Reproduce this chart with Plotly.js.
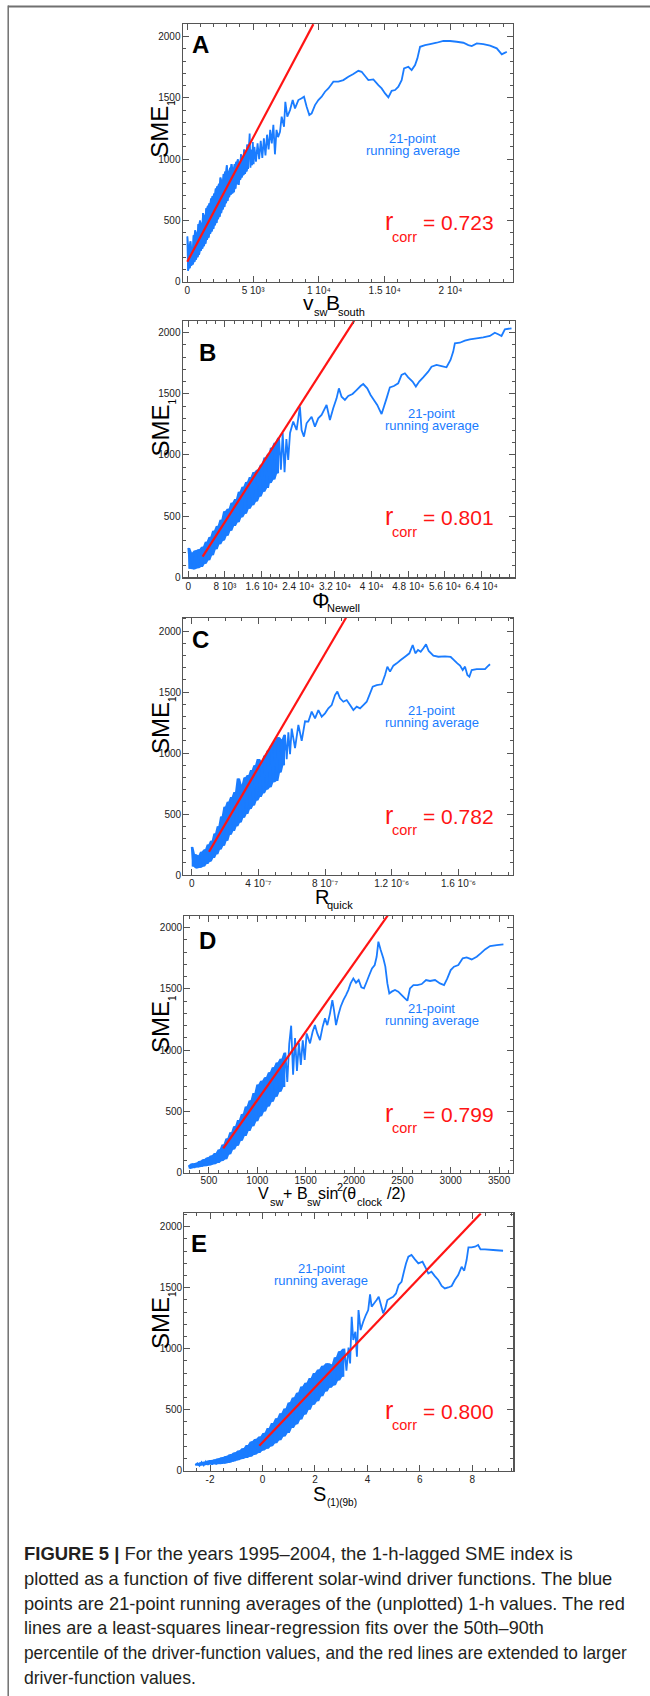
<!DOCTYPE html>
<html><head><meta charset="utf-8">
<script src="https://cdn.plot.ly/plotly-3.0.1.min.js"></script>
<style>
html,body{margin:0;padding:0;background:#fff;}
#wrap{position:relative;width:650px;height:1696px;overflow:hidden;background:#fff;}
#chart{position:absolute;left:0;top:0;width:650px;height:1696px;}
.cap{position:absolute;left:24px;white-space:nowrap;font-family:"Liberation Sans",Arial,sans-serif;font-size:18.6px;line-height:18.6px;color:#231f20;transform-origin:0 0;}
</style></head><body>
<div id="wrap"><div id="chart"></div><div id="caption"></div></div>
<script>
// ---------------- data ----------------
const panelLetters = ['A','B','C','D','E'];
const rcorrValues = ['0.723','0.801','0.782','0.799','0.800'];

const blueA = [[0,370],[60,90],[120,300],[180,110],[240,330],[300,130],[360,280],[420,140],[480,380],[540,160],[600,420],[660,180],[720,400],[780,200],[840,470],[900,220],[960,500],[1020,250],[1080,480],[1140,270],[1200,560],[1260,290],[1320,540],[1380,310],[1440,600],[1500,340],[1560,620],[1620,360],[1680,640],[1740,390],[1800,680],[1860,410],[1920,700],[1980,430],[2040,720],[2100,460],[2160,760],[2220,480],[2280,780],[2340,510],[2400,800],[2460,530],[2520,850],[2580,560],[2640,830],[2700,590],[2760,880],[2820,610],[2880,900],[2940,640],[3000,950],[3060,660],[3120,900],[3180,690],[3240,930],[3300,710],[3360,960],[3420,720],[3480,930],[3540,730],[3600,960],[3660,760],[3720,980],[3780,800],[3840,1000],[3900,790],[3960,970],[4020,830],[4080,1040],[4140,850],[4200,1020],[4260,870],[4320,1080],[4380,880],[4440,1060],[4500,900],[4560,1120],[4620,920],[4680,1100],[4740,1210],[4800,930],[4860,1080],[4920,950],[4980,1140],[5040,960],[5100,1100],[5220,980],[5340,1130],[5460,1000],[5580,1150],[5700,1010],[5820,1170],[5940,1030],[6060,1200],[6180,1080],[6300,1240],[6420,1130],[6540,1280],[6660,1040],[6780,1240],[6900,1180],[7045,1224],[7172,1347],[7350,1265],[7450,1469],[7600,1347],[7805,1401],[8010,1483],[8185,1415],[8440,1483],[8690,1497],[8870,1510],[9070,1429],[9275,1361],[9450,1374],[9705,1442],[9960,1483],[10210,1510],[10465,1551],[10720,1578],[11100,1633],[11480,1633],[11860,1646],[12240,1673],[12620,1695],[13000,1722],[13250,1714],[13510,1679],[13760,1646],[14140,1652],[14520,1605],[14770,1578],[15030,1537],[15280,1505],[15530,1559],[15790,1565],[16040,1592],[16290,1646],[16470,1741],[16800,1755],[17050,1728],[17310,1769],[17485,1823],[17690,1918],[18070,1932],[18450,1940],[18950,1951],[19460,1967],[19970,1965],[20470,1959],[20980,1951],[21360,1932],[21620,1924],[22000,1946],[22500,1940],[23010,1927],[23520,1905],[23900,1856],[24150,1870],[24280,1878]];

const blueB = [[0,240],[400,70],[800,200],[1200,65],[1600,220],[2000,75],[2400,230],[2800,85],[3200,250],[3600,110],[4000,290],[4400,140],[4800,330],[5200,180],[5600,380],[6000,230],[6400,420],[6800,270],[7200,470],[7600,300],[8000,540],[8400,340],[8800,560],[9200,380],[9600,610],[10000,420],[10400,640],[10800,450],[11200,700],[11600,490],[12000,740],[12400,520],[12800,780],[13200,560],[13600,820],[14000,590],[14400,860],[14800,620],[15200,880],[15600,660],[16000,920],[16400,700],[16800,980],[17200,730],[17600,1010],[17800,770],[18200,1060],[18600,800],[19000,1100],[19400,850],[19800,1140],[20200,880],[20600,1180],[21000,860],[21400,1130],[21800,960],[22200,1180],[22900,1273],[23630,1204],[24350,1395],[24720,1204],[25230,1150],[25810,1259],[26900,1313],[27630,1232],[28350,1300],[29080,1327],[30170,1409],[30900,1286],[31620,1382],[32350,1463],[32860,1545],[33440,1477],[34170,1450],[34900,1482],[35840,1499],[36710,1531],[37590,1564],[38170,1580],[39040,1545],[39770,1491],[40490,1450],[41220,1409],[41800,1363],[42170,1335],[42680,1395],[43260,1463],[43980,1553],[44860,1564],[45800,1586],[46530,1654],[47260,1668],[47980,1635],[48930,1600],[49650,1559],[50380,1600],[51250,1635],[52340,1681],[53070,1722],[54160,1736],[55250,1727],[56340,1717],[57210,1777],[57800,1845],[58160,1913],[59250,1918],[60340,1935],[61430,1946],[62890,1954],[64340,1962],[65800,1973],[66880,2000],[67610,1987],[68340,1973],[69070,2027],[70520,2036]];

const blueC = [[0,230],[1e-8,70],[2e-8,170],[3e-8,55],[4e-8,160],[5e-8,60],[6e-8,190],[7e-8,70],[8e-8,210],[9e-8,90],[1.0e-7,250],[1.1e-7,110],[1.2e-7,280],[1.3e-7,140],[1.4e-7,340],[1.5e-7,170],[1.6e-7,400],[1.7e-7,210],[1.8e-7,480],[1.9e-7,240],[2.0e-7,560],[2.1e-7,280],[2.2e-7,600],[2.3e-7,330],[2.4e-7,640],[2.5e-7,360],[2.6e-7,680],[2.7e-7,400],[2.8e-7,790],[2.9e-7,430],[3.0e-7,740],[3.1e-7,470],[3.2e-7,800],[3.3e-7,500],[3.4e-7,820],[3.5e-7,540],[3.6e-7,860],[3.7e-7,570],[3.8e-7,900],[3.9e-7,610],[4.0e-7,950],[4.1e-7,640],[4.2e-7,930],[4.3e-7,670],[4.4e-7,980],[4.5e-7,700],[4.6e-7,1020],[4.7e-7,720],[4.8e-7,1060],[4.9e-7,760],[5.0e-7,1100],[5.1e-7,770],[5.2e-7,1130],[5.3e-7,840],[5.4e-7,1110],[5.5e-7,900],[5.6e-7,1150],[5.7e-7,950],[5.8e-7,1170],[5.9e-7,990],[6.0e-7,1200],[6.2e-7,1040],[6.4e-7,1230],[6.6e-7,1100],[6.8e-7,1260],[7.0e-7,1257],[7.2e-7,1339],[7.4e-7,1284],[7.6e-7,1352],[7.8e-7,1298],[8.0e-7,1325],[8.2e-7,1366],[8.4e-7,1393],[8.6e-7,1475],[8.74e-7,1503],[8.9e-7,1448],[9.1e-7,1420],[9.3e-7,1434],[9.5e-7,1393],[9.7e-7,1352],[9.9e-7,1380],[1.01e-6,1366],[1.03e-6,1393],[1.05e-6,1420],[1.066e-6,1475],[1.086e-6,1544],[1.11e-6,1557],[1.14e-6,1563],[1.16e-6,1639],[1.174e-6,1708],[1.19e-6,1667],[1.21e-6,1716],[1.23e-6,1735],[1.254e-6,1762],[1.28e-6,1789],[1.306e-6,1817],[1.326e-6,1885],[1.342e-6,1817],[1.358e-6,1844],[1.374e-6,1830],[1.39e-6,1858],[1.406e-6,1891],[1.422e-6,1836],[1.45e-6,1798],[1.48e-6,1789],[1.52e-6,1792],[1.554e-6,1787],[1.574e-6,1762],[1.594e-6,1735],[1.61e-6,1716],[1.626e-6,1680],[1.64e-6,1708],[1.654e-6,1639],[1.666e-6,1625],[1.68e-6,1680],[1.71e-6,1688],[1.76e-6,1688],[1.774e-6,1708],[1.79e-6,1727]];

const blueD = [[290,60],[310,35],[330,75],[350,40],[370,80],[390,45],[410,95],[430,50],[450,110],[470,55],[490,125],[510,60],[530,140],[550,70],[570,160],[590,80],[610,190],[630,95],[650,230],[670,110],[690,280],[710,150],[730,330],[750,190],[770,380],[790,220],[810,430],[830,260],[850,480],[870,300],[890,540],[910,340],[930,590],[950,380],[970,650],[990,420],[1010,720],[1030,460],[1050,750],[1070,500],[1090,780],[1110,540],[1130,820],[1150,580],[1170,860],[1190,620],[1210,900],[1230,660],[1250,930],[1270,700],[1290,980],[1310,740],[1330,1050],[1350,1200],[1370,800],[1390,1100],[1410,830],[1430,1060],[1450,880],[1470,1080],[1490,920],[1510,1137],[1545,1056],[1572,1151],[1596,1205],[1620,1137],[1648,1083],[1676,1192],[1700,1260],[1724,1205],[1752,1301],[1776,1409],[1793,1328],[1814,1205],[1838,1287],[1862,1355],[1890,1409],[1917,1450],[1941,1491],[1965,1545],[1993,1586],[2021,1551],[2048,1573],[2076,1513],[2103,1505],[2131,1559],[2158,1614],[2186,1668],[2214,1695],[2234,1763],[2252,1886],[2276,1818],[2303,1750],[2324,1682],[2345,1545],[2365,1464],[2390,1478],[2424,1491],[2458,1478],[2493,1450],[2527,1423],[2552,1404],[2579,1505],[2614,1532],[2655,1532],[2700,1540],[2745,1573],[2786,1565],[2838,1573],[2889,1545],[2931,1532],[2965,1586],[3000,1654],[3034,1682],[3079,1695],[3124,1750],[3165,1758],[3217,1741],[3269,1763],[3310,1790],[3355,1823],[3407,1850],[3476,1858],[3545,1864]];

const blueE = [[-2.56,45],[-2.48,60],[-2.40,40],[-2.32,70],[-2.24,45],[-2.16,75],[-2.08,48],[-2.00,85],[-1.92,50],[-1.84,90],[-1.76,52],[-1.68,100],[-1.60,55],[-1.52,110],[-1.44,60],[-1.36,120],[-1.28,65],[-1.20,135],[-1.12,75],[-1.04,150],[-0.96,85],[-0.88,165],[-0.80,95],[-0.72,185],[-0.64,105],[-0.56,210],[-0.48,115],[-0.40,240],[-0.32,130],[-0.24,260],[-0.16,145],[-0.08,280],[0.00,165],[0.08,310],[0.16,180],[0.24,350],[0.32,200],[0.40,390],[0.48,225],[0.56,430],[0.64,250],[0.72,470],[0.80,280],[0.88,510],[0.96,310],[1.04,560],[1.12,350],[1.20,600],[1.28,380],[1.36,640],[1.44,420],[1.52,690],[1.60,460],[1.68,720],[1.76,500],[1.84,760],[1.92,540],[2.00,800],[2.08,570],[2.16,830],[2.24,610],[2.32,860],[2.40,650],[2.48,880],[2.56,680],[2.64,870],[2.72,700],[2.80,930],[2.88,740],[2.96,980],[3.04,770],[3.12,1000],[3.20,820],[3.28,1010],[3.34,880],[3.40,1262],[3.46,1071],[3.54,1139],[3.60,934],[3.66,1317],[3.74,1153],[3.84,1221],[3.94,1276],[4.03,1317],[4.10,1445],[4.16,1344],[4.25,1371],[4.35,1399],[4.43,1426],[4.50,1371],[4.60,1290],[4.68,1330],[4.76,1399],[4.86,1412],[4.98,1426],[5.09,1453],[5.19,1522],[5.30,1549],[5.39,1631],[5.47,1699],[5.56,1754],[5.68,1768],[5.81,1732],[5.94,1699],[6.10,1713],[6.23,1658],[6.32,1617],[6.44,1631],[6.57,1595],[6.70,1563],[6.83,1514],[6.95,1494],[7.08,1502],[7.21,1514],[7.33,1563],[7.46,1604],[7.59,1672],[7.69,1640],[7.78,1727],[7.85,1830],[7.97,1830],[8.10,1836],[8.22,1850],[8.31,1814],[8.48,1814],[8.79,1809],[9.17,1803]];

// x where the densely scribbled (solid-looking) part of each running average ends
const denseEnd = [4680, 19800, 5.6e-7, 1290, 3.12];

// least-squares fit lines (end points)
const fitAx = [0, 9580],          fitAy = [163, 2103];
const fitBx = [3126, 36200],      fitBy = [169, 2098];
const fitCx = [1.04e-7, 9.26e-7], fitCy = [191, 2109];
const fitDx = [648, 2348],        fitDy = [199, 2098];
const fitEx = [-0.12, 8.32],      fitEy = [205, 2109];

// tick labels
const yTickVals = [0, 500, 1000, 1500, 2000];
const yTickText = ['0', '500', '1000', '1500', '2000'];
const xTickValsA = [0, 5000, 10000, 15000, 20000];
const xTickTextA = ['0', '5 10³', '1 10⁴', '1.5 10⁴', '2 10⁴'];
const xTickValsB = [0, 8000, 16000, 24000, 32000, 40000, 48000, 56000, 64000];
const xTickTextB = ['0', '8 10³', '1.6 10⁴', '2.4 10⁴', '3.2 10⁴', '4 10⁴', '4.8 10⁴', '5.6 10⁴', '6.4 10⁴'];
const xTickValsC = [0, 4e-7, 8e-7, 1.2e-6, 1.6e-6];
const xTickTextC = ['0', '4 10⁻⁷', '8 10⁻⁷', '1.2 10⁻⁶', '1.6 10⁻⁶'];
const xTickValsD = [500, 1000, 1500, 2000, 2500, 3000, 3500];
const xTickTextD = ['500', '1000', '1500', '2000', '2500', '3000', '3500'];
const xTickValsE = [-2, 0, 2, 4, 6, 8];
const xTickTextE = ['-2', '0', '2', '4', '6', '8'];

const captionLines = [
  '<b>FIGURE 5 |</b> For the years 1995–2004, the 1-h-lagged SME index is',
  'plotted as a function of five different solar-wind driver functions. The blue',
  'points are 21-point running averages of the (unplotted) 1-h values. The red',
  'lines are a least-squares linear-regression fits over the 50th–90th',
  'percentile of the driver-function values, and the red lines are extended to larger',
  'driver-function values.'
];

// ---------------- layout ----------------
const W = 650, H = 1696;
const FONT = 'Liberation Sans, Arial, Helvetica, sans-serif';
const BLUE = '#1a7cff', RED = '#ff1414', AX = '#555555';
const PX = v => v / W, PY = v => 1 - v / H;

const blues = [blueA, blueB, blueC, blueD, blueE];
const fits = [[fitAx, fitAy], [fitBx, fitBy], [fitCx, fitCy], [fitDx, fitDy], [fitEx, fitEy]];
const xticks = [[xTickValsA, xTickTextA], [xTickValsB, xTickTextB], [xTickValsC, xTickTextC], [xTickValsD, xTickTextD], [xTickValsE, xTickTextE]];

const geo = [
  {l:182.7, r:512.7, t:24,    b:281.7,  xr:[-350, 24730],        yr:[0, 2104], minor:1000},
  {l:182.7, r:515,   t:320.7, b:577.3,  xr:[-1220, 71280],       yr:[0, 2098], minor:2000},
  {l:183.3, r:512.7, t:617.7, b:875,    xr:[-5.04e-8, 1.926e-6], yr:[0, 2109], minor:1e-7},
  {l:184.3, r:512.7, t:915.7, b:1172.7, xr:[245, 3641],          yr:[0, 2098], minor:100},
  {l:184.3, r:513.3, t:1213.3,b:1470.7, xr:[-2.98, 9.56],        yr:[0, 2110], minor:0.5}
];
const letterPos = [[200,44.7],[207.5,352.7],[200.8,640.3],[207.2,941],[199.2,1243.7]];
const smeY = [131.7, 430.5, 728, 1027, 1323];
const rBase = [230, 525, 823.3, 1121.7, 1418.3];
const runPos = [[412.7,138.2,150.5],[431.7,413.8,425.5],[431.7,710.5,722.8],[431.7,1008.2,1020.5],[321,1268.2,1280.5]];
const xTitles = [
  [['v',303.3,309.3,21],['sw',314.3,316.3,11],['B',326,309.3,21],['south',338.3,316.3,11]],
  [['Φ',311.7,608.3,22],['Newell',326.7,612,11]],
  [['R',315,904,20],['quick',326.7,909,11]],
  [['V',258.3,1199,16],['sw',270,1206,11],['+',283,1199,16],['B',296.7,1199,16],['sw',306.7,1206,11],['sin',318.3,1199,16],['2',336.7,1190.5,11],['(θ',341.7,1199,16],['clock',356.7,1206,11],['/2)',386.7,1199,16]],
  [['S',313.3,1500.7,20],['(1)(9b)',327,1505.7,10]]
];

function ann(text, x, y, size, o) {
  o = o || {};
  return {xref:'paper', yref:'paper', x:PX(x), y:PY(y), text:text, showarrow:false,
    font:{family:FONT, size:size, color:o.color || '#000'},
    xanchor:o.xa || 'center', yanchor:'middle', borderpad:0, borderwidth:0,
    textangle:o.angle || 0};
}
// text positioned by its baseline
function annB(text, x, base, size, o) { return ann(text, x, base - 0.3465 * size, size, o); }

// solid band under the dense scribble: local max / min of neighbouring read points
function bandPolygon(pts, xEnd) {
  const d = pts.filter(p => p[0] <= xEnd);
  const hi = [], lo = [];
  for (let k = 0; k < d.length; k++) {
    const win = d.slice(Math.max(0, k - 1), Math.min(d.length, k + 2)).map(p => p[1]);
    hi.push(Math.max.apply(null, win));
    lo.push(Math.min.apply(null, win));
  }
  const xs = d.map(p => p[0]);
  return {x: xs.concat(xs.slice().reverse()), y: hi.concat(lo.slice().reverse())};
}

const layout = {width:W, height:H, margin:{l:0, r:0, t:0, b:0}, showlegend:false,
  paper_bgcolor:'rgba(0,0,0,0)', plot_bgcolor:'#fff', annotations:[], shapes:[]};
const traces = [];

geo.forEach((g, i) => {
  const n = i === 0 ? '' : String(i + 1);
  const common = {ticks:'inside', ticklen:6, tickwidth:1, tickcolor:AX, showline:true, linecolor:AX,
    linewidth:1.2, mirror:'allticks', showgrid:false, zeroline:false,
    tickfont:{family:FONT, size:10, color:'#222'}, fixedrange:true};
  layout['xaxis' + n] = Object.assign({}, common, {domain:[PX(g.l), PX(g.r)], anchor:'y' + n,
    range:g.xr, tickmode:'array', tickvals:xticks[i][0], ticktext:xticks[i][1], tickangle:0,
    ticklabelstandoff: i === 3 ? -2 : -1,
    minor:{tickmode:'linear', tick0:0, dtick:g.minor, ticks:'inside', ticklen:3, tickcolor:AX, showgrid:false}});
  layout['yaxis' + n] = Object.assign({}, common, {domain:[PY(g.b), PY(g.t)], anchor:'x' + n,
    range:g.yr, tickmode:'array', tickvals:yTickVals, ticktext:yTickText, ticklabelstandoff:-1,
    minor:{tickmode:'linear', tick0:0, dtick:100, ticks:'inside', ticklen:3, tickcolor:AX, showgrid:false}});

  const band = bandPolygon(blues[i], denseEnd[i]);
  traces.push({type:'scatter', mode:'lines', x:band.x, y:band.y, fill:'toself', fillcolor:BLUE,
    xaxis:'x' + n, yaxis:'y' + n, line:{width:0, color:BLUE, simplify:false}, hoverinfo:'skip'});
  traces.push({type:'scatter', mode:'lines', x:blues[i].map(p => p[0]), y:blues[i].map(p => p[1]),
    xaxis:'x' + n, yaxis:'y' + n, line:{color:BLUE, width:1.8, simplify:false}, hoverinfo:'skip'});
  traces.push({type:'scatter', mode:'lines', x:fits[i][0], y:fits[i][1],
    xaxis:'x' + n, yaxis:'y' + n, line:{color:RED, width:2.2}, hoverinfo:'skip'});

  const A = layout.annotations;
  A.push(annB('<b>' + panelLetters[i] + '</b>', letterPos[i][0], letterPos[i][1] + 8, 24));
  A.push(ann('SME', 160, smeY[i], 24, {angle:-90}));
  A.push(ann('1', 172, smeY[i] - 29, 10, {angle:-90}));
  A.push(annB('r', 385, rBase[i], 25, {xa:'left', color:RED}));
  A.push(annB('corr', 391.7, rBase[i] + 11.8, 14.5, {xa:'left', color:RED}));
  A.push(annB('= ' + rcorrValues[i], 423, rBase[i], 21, {xa:'left', color:RED}));
  A.push(ann('21-point', runPos[i][0], runPos[i][1], 13, {color:BLUE}));
  A.push(ann('running average', runPos[i][0], runPos[i][2], 13, {color:BLUE}));
  xTitles[i].forEach(p => A.push(annB(p[0], p[1], p[2], p[3], {xa:'left'})));
});

// figure frame
layout.shapes.push({type:'line', xref:'paper', yref:'paper', x0:PX(8), x1:1, y0:PY(6.5), y1:PY(6.5), line:{color:'#707070', width:2}});
layout.shapes.push({type:'line', xref:'paper', yref:'paper', x0:PX(8.2), x1:PX(8.2), y0:PY(5.5), y1:0, line:{color:'#707070', width:1.5}});

Plotly.newPlot('chart', traces, layout, {displayModeBar:false, staticPlot:true});

// caption (HTML text, each line fitted to its measured width)
const capLeft = 24.2, capBase0 = 1560.7, capStep = 24.8, capSize = 18.6;
const capRight = [573, 612.5, 625, 544, 627, 196];
const capDiv = document.getElementById('caption');
captionLines.forEach((t, i) => {
  const d = document.createElement('div');
  d.className = 'cap';
  d.innerHTML = t;
  d.style.left = capLeft + 'px';
  d.style.top = (capBase0 + i * capStep - 0.8465 * capSize) + 'px';
  capDiv.appendChild(d);
  const w = d.getBoundingClientRect().width;
  d.style.transform = 'scaleX(' + ((capRight[i] - capLeft) / w).toFixed(4) + ')';
});
</script>
</body></html>
